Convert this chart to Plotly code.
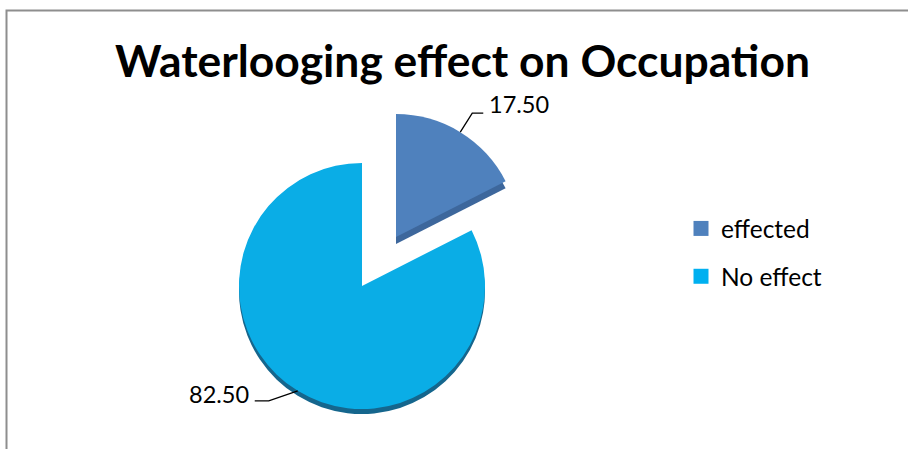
import math
import plotly.graph_objects as go

# ---- data ----
categories = ["effected", "No effect"]
values = [17.50, 82.50]
value_labels = ["17.50", "82.50"]
title_text = "Waterlooging effect on Occupation"

# ---- styling ----
W, H = 908, 449
FONT = "Lato"
top_colors = ["#4F81BD", "#0AADE6"]
side_colors = ["#3D679C", "#15668D"]
legend_colors = ["#4F81BD", "#00B0F0"]
CLEAR = "rgba(0,0,0,0)"

R = 123                     # pie radius, px
CENTER = (362, 286)         # pie centre, px
EXPLODE = (34, -49)         # offset of the exploded slice, px
DEPTH = [7, 5]              # visible thickness of each slice's side, px

# leader-line geometry per label: elbow offset from the arc point,
# horizontal run after the elbow, and where the text sits
LEADERS = [
    dict(elbow=(12, -19), run=11, text_dy=-9, side="left"),
    dict(elbow=(-29, 10), run=-14, text_dy=-7, side="right"),
]


def px_x(x):
    return x / W


def px_y(y):
    return 1 - y / H


def pie_domain(cx, cy):
    return dict(x=[px_x(cx - R), px_x(cx + R)],
                y=[px_y(cy + R), px_y(cy - R)])


def slice_centre(i):
    if i == 0:
        return (CENTER[0] + EXPLODE[0], CENTER[1] + EXPLODE[1])
    return CENTER


def pie_layer(i, colors_for_i, dy):
    cx, cy = slice_centre(i)
    cols = [CLEAR] * len(values)
    cols[i] = colors_for_i[i]
    return go.Pie(
        labels=categories, values=values, sort=False,
        direction="clockwise", rotation=0,
        domain=pie_domain(cx, cy + dy),
        marker=dict(colors=cols, line=dict(width=0)),
        textinfo="none", showlegend=False, hoverinfo="label+value",
    )


fig = go.Figure()

# each slice: darker side layer shifted down, then the top face
for i in [1, 0]:
    fig.add_trace(pie_layer(i, side_colors, DEPTH[i]))
    fig.add_trace(pie_layer(i, top_colors, 0))

# legend entries
for i, name in enumerate(categories):
    fig.add_trace(go.Scatter(
        x=[None], y=[None], mode="markers", name=name,
        legendgroup=name,
        marker=dict(symbol="square", size=15, color=legend_colors[i]),
    ))

# value labels with elbow leader lines at each slice's mid-angle
total = sum(values)
cum = 0.0
shapes = []
annotations = []
for i, v in enumerate(values):
    mid = math.radians(360 * (cum + v / 2) / total)
    cum += v
    cx, cy = slice_centre(i)
    ax, ay = cx + R * math.sin(mid), cy - R * math.cos(mid)
    st = LEADERS[i]
    ex, ey = ax + st["elbow"][0], ay + st["elbow"][1]
    hx = ex + st["run"]
    shapes.append(dict(
        type="path", xref="paper", yref="paper",
        path=f"M {px_x(ax)},{px_y(ay)} L {px_x(ex)},{px_y(ey)} L {px_x(hx)},{px_y(ey)}",
        line=dict(color="black", width=1.3),
    ))
    gap = 4 if st["side"] == "left" else -4
    annotations.append(dict(
        x=px_x(hx + gap), y=px_y(ey + st["text_dy"]), xref="paper", yref="paper",
        text=value_labels[i], showarrow=False,
        xanchor=st["side"], yanchor="middle",
        font=dict(family=FONT, size=23.5, color="black"),
    ))

# chart-area frame (left and top edges)
shapes.append(dict(
    type="path", xref="paper", yref="paper",
    path=f"M {px_x(6.5)},{px_y(H + 2)} L {px_x(6.5)},{px_y(10.5)} L {px_x(W + 2)},{px_y(10.5)}",
    line=dict(color="#8E8E8E", width=2),
))

fig.update_layout(
    width=W, height=H,
    margin=dict(l=0, r=0, t=0, b=0),
    paper_bgcolor="white", plot_bgcolor="white",
    title=dict(text=f"<b>{title_text}</b>", x=462.5 / W, xanchor="center",
               y=px_y(61), yanchor="middle", yref="container",
               font=dict(family=FONT, size=44.4, color="black")),
    xaxis=dict(visible=False), yaxis=dict(visible=False),
    legend=dict(x=px_x(681), y=px_y(206), xanchor="left", yanchor="top",
                font=dict(family=FONT, size=24.5, color="black"),
                traceorder="grouped", tracegroupgap=13,
                bgcolor="rgba(0,0,0,0)"),
    shapes=shapes,
    annotations=annotations,
)

fig.write_html("out.html")
